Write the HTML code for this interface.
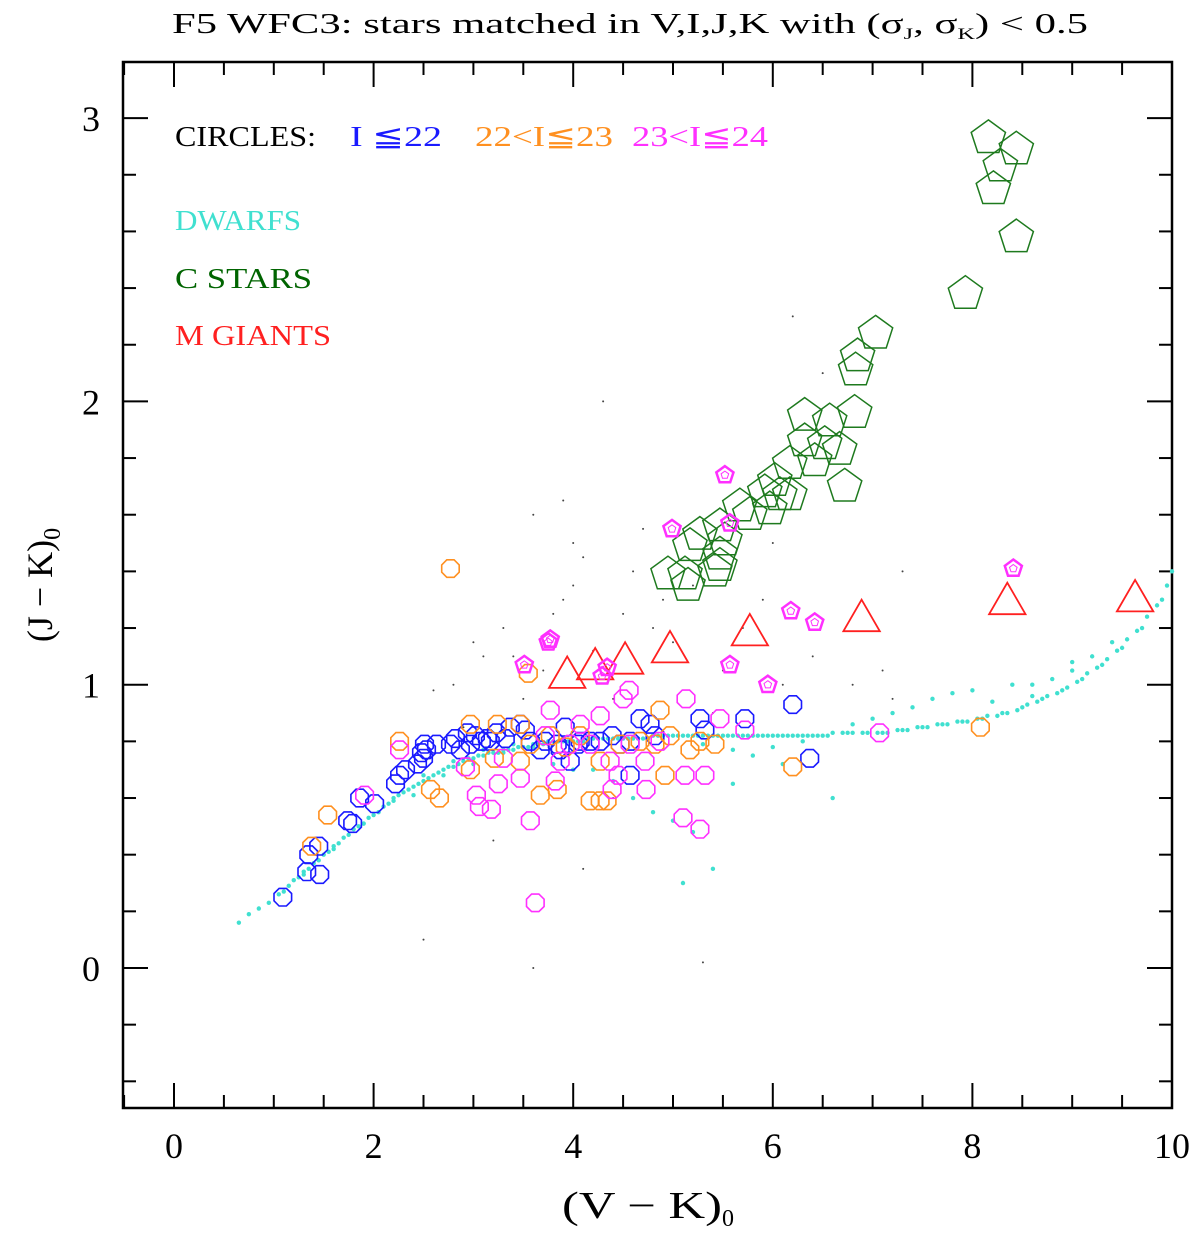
<!DOCTYPE html>
<html><head><meta charset="utf-8"><style>
body{margin:0;background:#fff;width:1200px;height:1236px;overflow:hidden}
svg{display:block;font-family:"Liberation Serif",serif}
</style></head><body>
<svg id="c" width="1200" height="1236">
<text x="172" y="33" font-size="28" textLength="916" lengthAdjust="spacingAndGlyphs">F5 WFC3: stars matched in V,I,J,K with (σ<tspan font-size="16" dy="6">J</tspan><tspan dy="-6">, σ</tspan><tspan font-size="16" dy="6">K</tspan><tspan dy="-6">) &lt; 0.5</tspan></text>
<rect x="123" y="62" width="1049" height="1046" fill="none" stroke="#000" stroke-width="2.5"/>
<g id="ticks"></g><g id="marks"></g>
<text x="562" y="1218" font-size="38" textLength="160" lengthAdjust="spacingAndGlyphs">(V − K)</text>
<text x="722" y="1226" font-size="24">0</text>
<text transform="translate(52,585) rotate(-90)" font-size="36" text-anchor="middle">(J − K)<tspan font-size="24" dy="8">0</tspan></text>
<g font-size="28">
<text x="175" y="146" fill="#000" textLength="141" lengthAdjust="spacingAndGlyphs">CIRCLES:</text>
<text x="350" y="146" fill="#1a1aff" textLength="92" lengthAdjust="spacingAndGlyphs">I ≦22</text>
<text x="475" y="146" fill="#ff9020" textLength="138" lengthAdjust="spacingAndGlyphs">22&lt;I≦23</text>
<text x="632" y="146" fill="#ff30ff" textLength="136" lengthAdjust="spacingAndGlyphs">23&lt;I≦24</text>
<text x="175" y="230" fill="#40e0d0" textLength="126" lengthAdjust="spacingAndGlyphs">DWARFS</text>
<text x="175" y="288" fill="#006400" textLength="137" lengthAdjust="spacingAndGlyphs">C STARS</text>
<text x="175" y="345" fill="#ff2020" textLength="156" lengthAdjust="spacingAndGlyphs">M GIANTS</text>
</g>
</svg>
<script>
const xTicks=[0,2,4,6,8,10];
const yTicks=[0,1,2,3];
const dwarfX=[0.65,0.75,0.85,0.95,1.05,1.15,1.25,1.35,1.45,1.55,1.65,1.75,1.85,1.95,2.05,2.15,2.25,2.35,2.45,2.55,2.65,2.75,2.85,2.95,3.05,3.2,3.35,3.5,3.65,3.8,3.95,4.1,4.3,4.5,4.7,4.9,5.1,5.3,5.5,5.7,5.9,6.1,6.3,6.5,6.7,6.9,7.1,7.3,7.5,7.7,7.9,8.1,8.3,8.5,8.7,8.9,9.1,9.3,9.5,9.7,9.9,10,4.6,4.8,5.0,5.2,5.6,4.4,4.2,5.8,6.1,7.2,7.6,8.0,8.4,8.8,9.0,9.2,3.8,4.0,5.1,5.4,6.6,7.0,8.6,
1.1,1.2,1.3,1.4,1.5,1.6,1.7,1.8,1.9,2.0,2.1,2.2,2.3,2.4,2.5,2.6,2.7,2.8,2.9,3.0,3.1,3.15,3.25,3.3,3.4,3.45,3.55,3.6,3.7,3.75,3.85,3.9,4.0,4.05,4.15,4.2,4.25,4.35,4.4,4.45,4.55,4.6,4.65,4.75,4.8,4.85,4.95,5.0,5.05,5.15,5.2,5.25,5.35,5.4,5.45,5.55,5.6,5.65,5.75,5.8,5.85,5.95,6.0,6.05,6.15,6.2,6.25,6.35,6.4,6.45,6.55,6.6,6.75,6.8,6.95,7.05,7.15,7.25,7.35,7.45,7.55,7.65,7.75,7.85,7.95,8.05,8.15,8.25,8.35,8.45,8.55,8.65,8.75,8.85,8.95,9.05,9.15,9.25,9.35,9.45,9.55,9.65,9.75,9.85,9.95,
1.3,1.6,1.9,2.2,2.5,2.8,3.1,3.4,2.4,2.7,3.0,3.3,3.6,5.3,5.6,6.0,6.3,6.8,7.4,7.8,8.2,8.6,9.0,9.4];
const dwarfY=[0.16,0.19,0.21,0.23,0.26,0.29,0.32,0.35,0.38,0.41,0.44,0.47,0.5,0.53,0.55,0.58,0.61,0.63,0.65,0.67,0.69,0.71,0.72,0.74,0.75,0.76,0.77,0.78,0.79,0.8,0.8,0.8,0.81,0.81,0.81,0.82,0.82,0.82,0.82,0.82,0.82,0.82,0.82,0.82,0.83,0.83,0.83,0.84,0.85,0.86,0.87,0.88,0.9,0.92,0.95,0.98,1.02,1.07,1.13,1.2,1.3,1.4,0.6,0.55,0.52,0.48,0.65,0.66,0.7,0.75,0.72,0.9,0.95,0.98,1.0,1.02,1.05,1.1,0.72,0.7,0.3,0.35,0.6,0.88,0.96,
0.27,0.31,0.34,0.37,0.40,0.43,0.46,0.49,0.51,0.54,0.57,0.59,0.62,0.64,0.66,0.68,0.70,0.71,0.73,0.74,0.75,0.76,0.76,0.77,0.77,0.78,0.78,0.79,0.79,0.8,0.8,0.8,0.8,0.8,0.81,0.81,0.81,0.81,0.81,0.81,0.81,0.81,0.81,0.81,0.82,0.82,0.82,0.82,0.82,0.82,0.82,0.82,0.82,0.82,0.82,0.82,0.82,0.82,0.82,0.82,0.82,0.82,0.82,0.82,0.82,0.82,0.82,0.82,0.82,0.82,0.82,0.83,0.83,0.83,0.83,0.83,0.83,0.84,0.84,0.85,0.85,0.86,0.86,0.87,0.87,0.88,0.89,0.89,0.9,0.91,0.93,0.94,0.96,0.97,0.99,1.01,1.04,1.06,1.09,1.12,1.16,1.19,1.24,1.28,1.35,
0.33,0.42,0.51,0.60,0.68,0.73,0.77,0.79,0.61,0.68,0.72,0.76,0.78,0.79,0.77,0.78,0.80,0.86,0.92,0.97,0.94,1.0,1.08,1.15];
const fieldX=[4.1,4.3,3.6,3.9,4.5,4.8,5.2,3.4,3.3,4.0,4.6,5.0,5.5,6.1,6.5,3.8,4.2,4.4,3.7,5.4,2.8,3.1,3.5,4.9,5.7,6.2,7.1,2.6,3.0,4.7,5.9,6.4,3.2,4.1,3.6,2.5,5.3,6.0,4.4,3.9,7.2,6.8,7.3,2.9,4.0];
const fieldY=[1.45,2.0,1.6,1.3,1.25,1.2,1.35,1.1,1.2,1.5,1.4,1.15,1.05,1.0,2.1,1.25,1.12,0.95,1.05,0.9,1.0,1.1,0.95,1.3,1.2,2.3,1.05,0.98,1.15,1.55,1.3,1.1,0.45,0.35,0.0,0.1,0.02,1.5,0.6,1.65,0.95,1.0,1.4,0.85,1.35];
const cX=[8.16,8.44,8.28,8.21,8.44,7.93,7.03,6.85,6.83,6.82,6.57,6.32,6.32,6.52,6.67,6.42,6.17,6.72,6.02,5.92,6.17,5.97,5.67,5.77,5.47,5.27,5.17,5.52,5.47,5.42,5.12,4.95,5.15,5.47,6.07];
const cY=[2.93,2.89,2.83,2.75,2.58,2.38,2.24,2.16,2.11,1.96,1.93,1.95,1.86,1.85,1.83,1.79,1.78,1.70,1.72,1.68,1.67,1.62,1.63,1.60,1.56,1.53,1.49,1.51,1.46,1.40,1.39,1.39,1.35,1.42,1.67];
const mX=[3.94,4.22,4.52,4.97,5.77,6.89,8.35,9.63];
const mY=[1.04,1.07,1.09,1.13,1.19,1.24,1.30,1.31];
const sX=[5.52,4.99,5.57,3.77,3.75,3.51,4.34,4.29,5.57,5.95,6.18,6.42,8.41];
const sY=[1.74,1.55,1.57,1.16,1.15,1.07,1.06,1.03,1.07,1.00,1.26,1.22,1.41];
const bX=[1.09,1.33,1.46,1.35,1.45,1.74,1.79,1.86,2.01,2.22,2.26,2.32,2.44,2.48,2.50,2.51,2.53,2.63,2.77,2.82,2.94,3.02,3.08,3.14,3.17,3.23,3.37,3.47,3.52,3.57,3.72,3.84,3.92,3.97,4.05,4.17,4.27,4.39,4.47,4.57,4.67,4.77,4.82,5.27,5.32,5.72,6.20,6.37,4.07,2.87,3.32,2.97,3.67,3.87,4.57];
const bY=[0.25,0.34,0.33,0.40,0.43,0.52,0.51,0.60,0.58,0.65,0.68,0.70,0.72,0.76,0.74,0.79,0.77,0.79,0.79,0.81,0.83,0.82,0.80,0.81,0.80,0.83,0.85,0.86,0.84,0.80,0.80,0.79,0.85,0.73,0.79,0.80,0.80,0.82,0.79,0.68,0.88,0.86,0.82,0.88,0.84,0.88,0.93,0.74,0.80,0.77,0.81,0.79,0.77,0.77,0.80];
const oX=[2.77,8.08,6.20,1.54,1.38,2.26,2.97,3.24,3.55,3.21,2.57,2.66,3.67,3.84,4.17,4.27,4.34,4.87,4.92,5.17,3.47,3.77,4.07,4.47,4.67,4.82,5.42,2.97,3.92,4.27,4.97,5.27,3.47,3.57];
const oY=[1.41,0.85,0.71,0.54,0.43,0.80,0.86,0.86,1.04,0.74,0.63,0.60,0.61,0.63,0.59,0.59,0.59,0.91,0.68,0.77,0.73,0.82,0.82,0.79,0.80,0.79,0.79,0.70,0.78,0.73,0.82,0.80,0.86,0.79];
const pX=[3.62,7.07,4.56,4.50,4.27,3.77,4.07,5.13,5.47,5.72,2.26,2.92,3.03,3.18,3.06,3.25,3.47,3.57,4.45,4.39,4.73,5.10,5.27,5.12,5.32,4.72,3.87,4.37,3.97,4.57,4.87,4.17,3.72,1.91,3.30,3.82];
const pY=[0.23,0.83,0.98,0.95,0.89,0.91,0.86,0.95,0.88,0.84,0.77,0.71,0.61,0.56,0.57,0.65,0.67,0.52,0.68,0.63,0.63,0.53,0.49,0.68,0.68,0.73,0.73,0.73,0.79,0.79,0.80,0.79,0.82,0.61,0.74,0.66];

const NS='http://www.w3.org/2000/svg';
const L=123,R=1172,T=62,B=1108;
const X=v=>174+99.8*v, Y=v=>968-283.3*v;
const tg=document.getElementById('ticks'), mg=document.getElementById('marks');
function mk(tag,at,par){const e=document.createElementNS(NS,tag);for(const k in at)e.setAttribute(k,at[k]);par.appendChild(e);return e;}
for(let v=-0.5;v<=10.001;v+=0.5){const maj=Math.abs(v/2-Math.round(v/2))<1e-6;const len=maj?25:13;const x=X(v);
 let e=mk('line',{x1:x,x2:x,y1:B,y2:B-len,stroke:'#000','stroke-width':2},tg);
 
 
 e=mk('line',{x1:x,x2:x,y1:T,y2:T+len,stroke:'#000','stroke-width':2},tg);
 
 }
xTicks.forEach(v=>{const t=mk('text',{x:X(v),y:1158,'font-size':36,'text-anchor':'middle'},tg);t.textContent=v;
 
 });
for(let i=-2;i<=16;i++){const v=i*0.2;const maj=i%5===0;const len=maj?25:13;const y=Y(v);if(y<T||y>B)continue;
 let e=mk('line',{x1:L,x2:L+len,y1:y,y2:y,stroke:'#000','stroke-width':2},tg);
 
 
 e=mk('line',{x1:R,x2:R-len,y1:y,y2:y,stroke:'#000','stroke-width':2},tg);
 
 }
yTicks.forEach(v=>{const t=mk('text',{x:100,y:Y(v)+13,'font-size':36,'text-anchor':'end'},tg);t.textContent=v;
 
 });
function poly(cx,cy,r,n,rot){const p=[];for(let i=0;i<n;i++){const a=rot+i*2*Math.PI/n;p.push((cx+r*Math.cos(a)).toFixed(1)+','+(cy+r*Math.sin(a)).toFixed(1));}return p.join(' ');}
dwarfX.forEach((v,i)=>{const e=mk('circle',{cx:X(v),cy:Y(dwarfY[i]),r:2.2,fill:'#40e0d0'},mg);
 
 });
fieldX.forEach((v,i)=>{const e=mk('circle',{cx:X(v),cy:Y(fieldY[i]),r:1,fill:'#444'},mg);
 
 });
function circ(xs,ys,col,name){xs.forEach((v,i)=>{const e=mk('polygon',{points:poly(X(v),Y(ys[i]),9.5,8,Math.PI/8),fill:'none',stroke:col,'stroke-width':1.6},mg);
 
 });}
circ(bX,bY,'#1a1aff','bright-star-circle');
circ(oX,oY,'#ff9020','mid-star-circle');
circ(pX,pY,'#ff30ff','faint-star-circle');
cX.forEach((v,i)=>{const e=mk('polygon',{points:poly(X(v),Y(cY[i]),18,5,-Math.PI/2),fill:'none',stroke:'#1e7a1e','stroke-width':1.5},mg);
 
 });
mX.forEach((v,i)=>{const e=mk('polygon',{points:poly(X(v),Y(mY[i])+4,21,3,-Math.PI/2),fill:'none',stroke:'#ff2020','stroke-width':1.8},mg);
 
 });
sX.forEach((v,i)=>{const e=mk('polygon',{points:poly(X(v),Y(sY[i]),9,5,-Math.PI/2),fill:'none',stroke:'#ff30ff','stroke-width':2.5},mg);
 
 
 const s=mk('polygon',{points:poly(X(v),Y(sY[i]),4,5,-Math.PI/2),fill:'none',stroke:'#ff30ff','stroke-width':1},mg);
 
 });
</script>
</body></html>
